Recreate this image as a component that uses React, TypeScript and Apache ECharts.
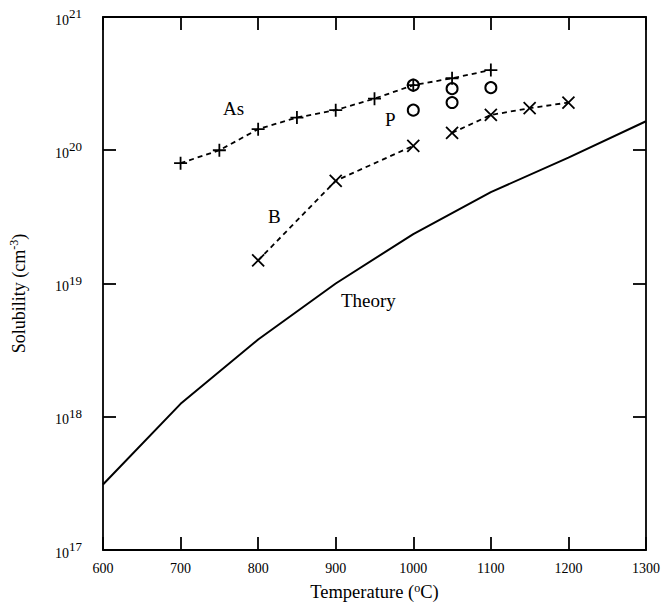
import React, { useEffect, useRef } from "react";
import * as echarts from "echarts";

const xTicks = [600, 700, 800, 900, 1000, 1100, 1200, 1300];
const theoryT = [600, 700, 800, 900, 1000, 1100, 1200, 1300];
const theoryS = [3.1e17, 1.25e18, 3.8e18, 1.0e19, 2.35e19, 4.85e19, 8.8e19, 1.65e20];
const asT = [700, 750, 800, 850, 900, 950, 1000, 1050, 1100];
const asS = [8.0e19, 1.0e20, 1.44e20, 1.76e20, 2.0e20, 2.44e20, 3.08e20, 3.47e20, 4.0e20];
const pT = [1000, 1000, 1050, 1050, 1100];
const pS = [3.08e20, 2.0e20, 2.9e20, 2.28e20, 2.95e20];
const b1T = [800, 900, 1000];
const b1S = [1.49e19, 5.9e19, 1.08e20];
const b2T = [1050, 1100, 1150, 1200];
const b2S = [1.35e20, 1.84e20, 2.07e20, 2.28e20];
const labels = [
  { text: "As", x: 223, y: 108 },
  { text: "P", x: 385, y: 119 },
  { text: "B", x: 268, y: 216 },
  { text: "Theory", x: 341, y: 300 },
];

const FONT = "Liberation Serif";
const zip = (a: number[], b: number[]) => a.map((v, i) => [v, b[i]]);
const PLUS = "path://M0,6H12M6,0V12";
const CROSS = "path://M0,0L12,12M12,0L0,12";

export default function App() {
  const ref = useRef<HTMLDivElement>(null);
  useEffect(() => {
    const chart = echarts.init(ref.current!, null, { renderer: "svg" });
    const axisLine = { lineStyle: { color: "#000", width: 1.8 } };
    const axisTick = { inside: true, length: 13, lineStyle: { color: "#000", width: 1.8 } };
    const dashed = { color: "#000", width: 1.8, type: [5, 4] as any };
    const markStyle = { color: "#000", borderColor: "#000", borderWidth: 1.8 };
    chart.setOption({
      animation: false,
      backgroundColor: "#fff",
      textStyle: { fontFamily: FONT },
      grid: { left: 100, right: 19, top: 17, bottom: 57 },
      xAxis: [
        {
          type: "value",
          min: xTicks[0],
          max: xTicks[xTicks.length - 1],
          interval: 100,
          position: "bottom",
          axisLine,
          axisTick,
          splitLine: { show: false },
          axisLabel: {
            color: "#000",
            fontSize: 14,
            fontFamily: FONT,
            margin: 11,
            formatter: (v: number) => String(v),
          },
          name: "Temperature ({s|o}C)",
          nameLocation: "middle",
          nameGap: 32,
          nameTextStyle: {
            color: "#000",
            fontSize: 18.5,
            fontFamily: FONT,
            rich: { s: { fontSize: 12, fontFamily: FONT, color: "#000", padding: [0, 0, 8, 0] } },
          },
        },
        {
          type: "value",
          min: xTicks[0],
          max: xTicks[xTicks.length - 1],
          interval: 100,
          position: "top",
          axisLine,
          axisTick,
          splitLine: { show: false },
          axisLabel: { show: false },
        },
      ],
      yAxis: [
        {
          type: "log",
          logBase: 10,
          min: 1e17,
          max: 1e21,
          position: "left",
          axisLine,
          axisTick,
          minorTick: { show: false },
          splitLine: { show: false },
          axisLabel: {
            margin: 21,
            formatter: (v: number) => `{b|10}{s|${Math.round(Math.log10(v))}}`,
            rich: {
              b: { fontSize: 14, fontFamily: FONT, color: "#000", padding: [6, 0, 0, 0] },
              s: { fontSize: 13, fontFamily: FONT, color: "#000", padding: [0, 0, 7, 0] },
            },
          },
          name: "{a|Solubility (cm}{s|-3}{a|)}",
          nameLocation: "middle",
          nameGap: 74,
          nameRotate: 90,
          nameTextStyle: {
            padding: [0, 20, 0, 0],
            rich: {
              a: { fontSize: 18, fontFamily: FONT, color: "#000" },
              s: { fontSize: 12, fontFamily: FONT, color: "#000", padding: [0, 0, 9, 0] },
            },
          },
        },
        {
          type: "log",
          logBase: 10,
          min: 1e17,
          max: 1e21,
          position: "right",
          axisLine,
          axisTick,
          minorTick: { show: false },
          splitLine: { show: false },
          axisLabel: { show: false },
        },
      ],
      graphic: labels.map((l) => ({
        type: "text",
        x: l.x,
        y: l.y,
        style: {
          text: l.text,
          fontSize: 19,
          fontFamily: FONT,
          fill: "#000",
          align: "left",
          verticalAlign: "middle",
        },
      })),
      series: [
        {
          name: "Theory",
          type: "line",
          data: zip(theoryT, theoryS),
          showSymbol: false,
          lineStyle: { color: "#000", width: 2 },
        },
        {
          name: "As",
          type: "line",
          data: zip(asT, asS),
          symbol: PLUS,
          symbolSize: 13,
          symbolKeepAspect: true,
          lineStyle: dashed,
          itemStyle: markStyle,
          z: 3,
        },
        {
          name: "P",
          type: "scatter",
          data: zip(pT, pS),
          symbol: "emptyCircle",
          symbolSize: 11,
          itemStyle: { color: "#000", borderColor: "#000", borderWidth: 2, opacity: 1 },
          z: 1,
        },
        {
          name: "B1",
          type: "line",
          data: zip(b1T, b1S),
          symbol: CROSS,
          symbolSize: 12,
          lineStyle: dashed,
          itemStyle: markStyle,
        },
        {
          name: "B2",
          type: "line",
          data: zip(b2T, b2S),
          symbol: CROSS,
          symbolSize: 12,
          lineStyle: dashed,
          itemStyle: markStyle,
        },
      ],
    });
    return () => chart.dispose();
  }, []);
  return (
    <div
      ref={ref}
      style={{ position: "fixed", left: 0, top: 0, width: 665, height: 607, background: "#fff" }}
    />
  );
}
